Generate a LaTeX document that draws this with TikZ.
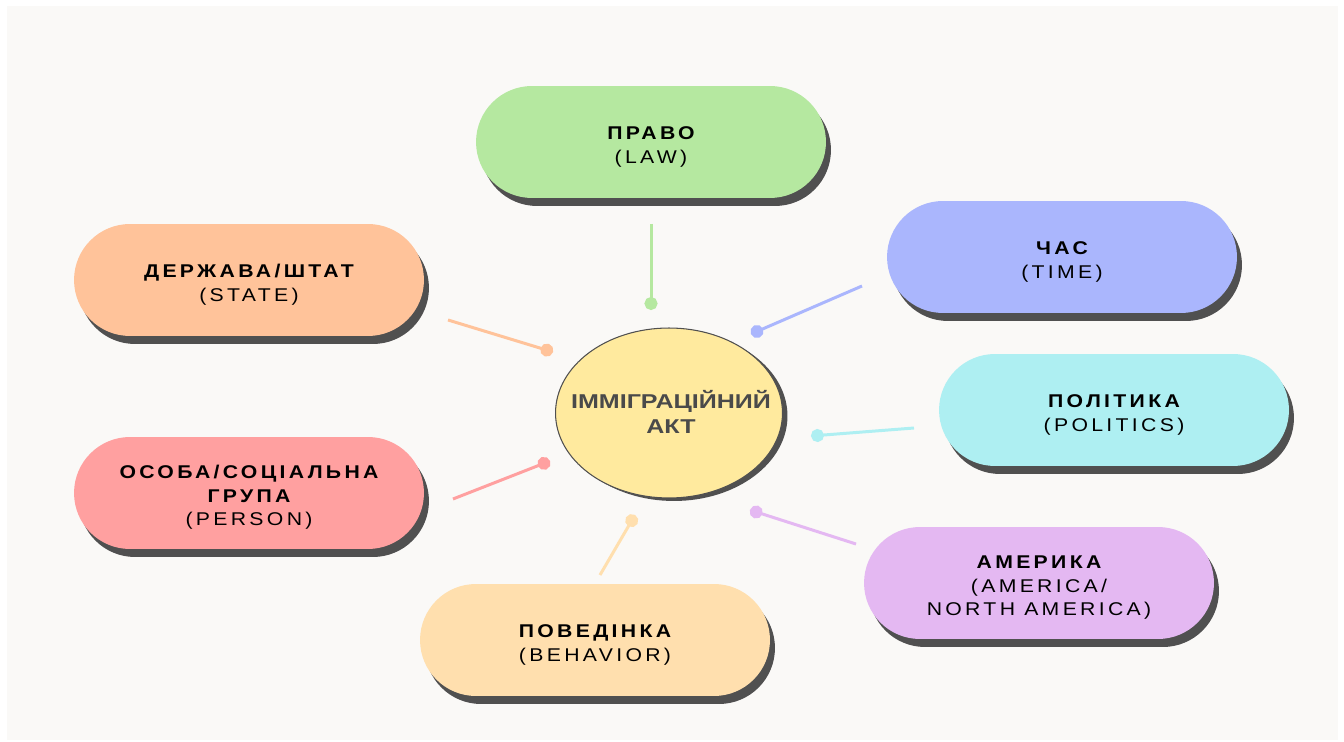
\documentclass[tikz,border=0pt]{standalone}
\usepackage{fontspec}
\setmainfont{Liberation Sans}
\newfontfamily\spacedfont[LetterSpace=18, FakeStretch=1.15]{Liberation Sans}
\newfontfamily\actfont[FakeStretch=1.25]{Liberation Sans}
\usetikzlibrary{shapes.geometric, shadows, arrows.meta}
\usepackage{xcolor}
\definecolor{PaperCream}{HTML}{FAF9F7}
\definecolor{ShadowGrey}{HTML}{505050}
\definecolor{LawGreen}{HTML}{B5E8A0}
\definecolor{StatePeach}{HTML}{FFC39A}
\definecolor{TimeBlue}{HTML}{AAB6FD}
\definecolor{PoliticsCyan}{HTML}{AEEFF2}
\definecolor{PersonPink}{HTML}{FFA0A0}
\definecolor{BehaviorCream}{HTML}{FFDFAE}
\definecolor{AmericaLilac}{HTML}{E4B8F2}
\definecolor{ActYellow}{HTML}{FFEA9E}
\definecolor{ActText}{HTML}{4A4A4A}
\tikzset{
    % Pill boxes round the centre
    topic/.style={
        rectangle,
        rounded corners=1.12cm,
        fill=#1,
        minimum width=7cm,
        minimum height=2.24cm,
        align=center,
        inner sep=0pt,
        font=\spacedfont\fontsize{10.5}{13.6}\selectfont,
        drop shadow={shadow xshift=0.1cm, shadow yshift=-0.16cm,
            fill=ShadowGrey, opacity=1}
    },
    % Centre ellipse, drawn round its text
    act/.style={
        align=center,
        text=ActText,
        font=\actfont\bfseries\fontsize{11.4}{14}\selectfont
    },
    actring/.style={
        draw=ShadowGrey,
        line width=0.6pt,
        fill=ActYellow,
        drop shadow={shadow xshift=0.1cm, shadow yshift=-0.06cm,
            fill=ShadowGrey, opacity=1}
    },
    % Connectors with a dot at the inner end
    link/.style={
        line width=1.7pt,
        draw=#1,
        -{Circle[length=0.26cm, fill=#1]}
    }
}
% bold first line, a little taller so the text sits lower
\newcommand{\ttl}[1]{{\bfseries\rule{0pt}{12.5pt}#1}}

\begin{document}
\begin{tikzpicture}[x=0.02cm, y=-0.02cm]
    \useasboundingbox (0,0) rectangle (1344,742);
    \fill[white] (0,0) rectangle (1344,742);
    \fill[PaperCream] (7,6) rectangle (1338,740);

    \path[actring] (669,413) ellipse [x radius=2.27cm, y radius=1.7cm];
    \node[act] (act) at (671,412) {ІММІГРАЦІЙНИЙ\\АКТ};

    \node[topic=LawGreen] (law) at (651,142) {\ttl{ПРАВО}\\(LAW)};
    \node[topic=StatePeach] (state) at (249,280) {\ttl{ДЕРЖАВА/ШТАТ}\\(STATE)};
    \node[topic=TimeBlue] (time) at (1062,257) {\ttl{ЧАС}\\(TIME)};
    \node[topic=PoliticsCyan] (politics) at (1114,410) {\ttl{ПОЛІТИКА}\\(POLITICS)};
    \node[topic=PersonPink] (person) at (249,493) {\ttl{ОСОБА/СОЦІАЛЬНА}\\{\bfseries ГРУПА}\\(PERSON)};
    \node[topic=BehaviorCream] (behavior) at (595,640) {\ttl{ПОВЕДІНКА}\\(BEHAVIOR)};
    \node[topic=AmericaLilac] (america) at (1039,583) {\ttl{АМЕРИКА}\\(AMERICA/\\NORTH AMERICA)};

    % free ends of the connectors
    \coordinate (law-out) at (651,224);
    \coordinate (law-in) at (651,310);
    \coordinate (state-out) at (448,320);
    \coordinate (state-in) at (553,352);
    \coordinate (time-out) at (862,286);
    \coordinate (time-in) at (751,334);
    \coordinate (politics-out) at (914,428);
    \coordinate (politics-in) at (811,436);
    \coordinate (person-out) at (453,499);
    \coordinate (person-in) at (550,461);
    \coordinate (behavior-out) at (600,575);
    \coordinate (behavior-in) at (635,515);
    \coordinate (america-out) at (856,544);
    \coordinate (america-in) at (750,510);

    \draw[link=LawGreen] (law-out) -- (law-in);
    \draw[link=StatePeach] (state-out) -- (state-in);
    \draw[link=TimeBlue] (time-out) -- (time-in);
    \draw[link=PoliticsCyan] (politics-out) -- (politics-in);
    \draw[link=PersonPink] (person-out) -- (person-in);
    \draw[link=BehaviorCream] (behavior-out) -- (behavior-in);
    \draw[link=AmericaLilac] (america-out) -- (america-in);
\end{tikzpicture}
\end{document}
